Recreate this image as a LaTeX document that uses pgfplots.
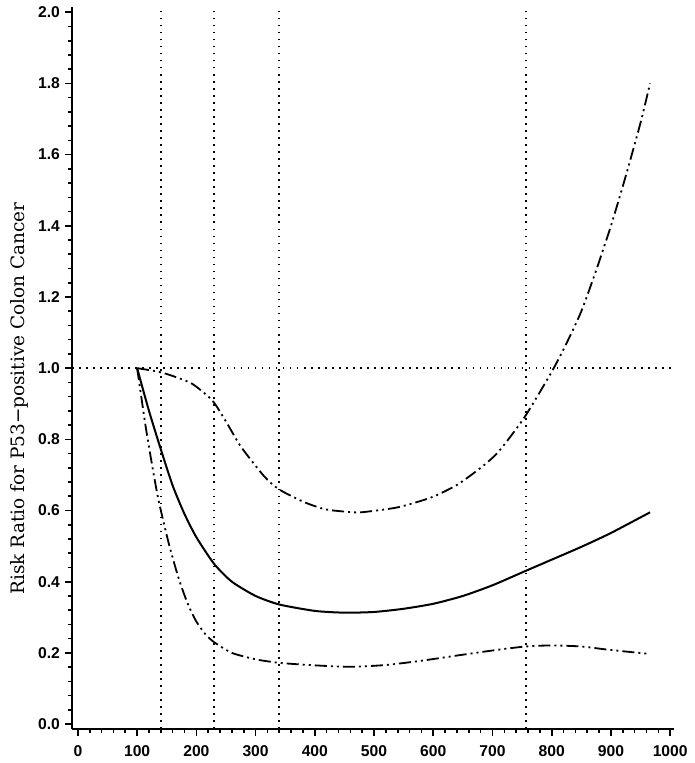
\documentclass[border=0pt]{standalone}
\usepackage{fontspec}
\usepackage{pgfplots}
\pgfplotsset{compat=1.18}
\newfontfamily\tickfont{Liberation Sans}
\newfontfamily\labelfont{DejaVu Serif}

\begin{document}
\begin{tikzpicture}
\begin{axis}[
  scale only axis,
  width=300pt, height=359.5pt,
  xmin=-10, xmax=1007, ymin=-0.014, ymax=2.014,
  axis lines*=left,
  axis line style={line width=1pt},
  xtick={0,100,200,300,400,500,600,700,800,900,1000},
  ytick={0,0.2,0.4,0.6,0.8,1.0,1.2,1.4,1.6,1.8,2.0},
  minor x tick num=4, minor y tick num=4,
  tick align=outside,
  major tick length=3.5pt, minor tick length=2pt,
  tick style={line width=0.8pt, black},
  scaled ticks=false,
  /pgf/number format/assume math mode=true,
  /pgf/number format/1000 sep={},
  ticklabel style={font=\tickfont\bfseries\fontsize{7.8}{9}\selectfont},
  y tick label style={/pgf/number format/.cd, fixed, fixed zerofill, precision=1,
                      /tikz/.cd, xshift=1pt},
  x tick label style={yshift=-1pt},
  ylabel={Risk Ratio for P53−positive Colon Cancer},
  ylabel style={font=\labelfont\fontsize{9.2}{11}\selectfont,
                inner xsep=0pt, inner ysep=5.3pt,
                at={(axis description cs:-0.087,0.458)}, anchor=center},
  clip=false,
]
  % reference lines
  \addplot[black, line width=0.8pt, dash pattern=on 0.8pt off 2.7pt]
    coordinates {(-10,1) (1007,1)};
  \addplot[black, line width=0.8pt, dash pattern=on 0.8pt off 2.7pt]
    coordinates {(140,-0.014) (140,2.014)};
  \addplot[black, line width=0.8pt, dash pattern=on 0.8pt off 2.7pt]
    coordinates {(230,-0.014) (230,2.014)};
  \addplot[black, line width=0.8pt, dash pattern=on 0.8pt off 2.7pt]
    coordinates {(340,-0.014) (340,2.014)};
  \addplot[black, line width=0.8pt, dash pattern=on 0.8pt off 2.7pt]
    coordinates {(757,-0.014) (757,2.014)};

  % estimate
  \addplot[black, line width=1pt, smooth, tension=0.4] coordinates {
    (100,1.0) (120,0.88) (140,0.772) (160,0.67) (180,0.59) (200,0.525)
    (230,0.45) (260,0.40) (300,0.36) (340,0.336) (400,0.318) (450,0.313)
    (500,0.315) (550,0.324) (600,0.338) (650,0.36) (700,0.39) (754,0.429)
    (800,0.462) (850,0.498) (900,0.537) (966,0.595)};

  % upper limit
  \addplot[black, line width=0.9pt, smooth, tension=0.4,
    dash pattern=on 6pt off 2pt on 1pt off 2pt on 1pt off 2pt] coordinates {
    (100,1.0) (136,0.99) (160,0.978) (193,0.956) (227,0.909) (250,0.85)
    (275,0.78) (314,0.697) (339,0.66) (380,0.625) (416,0.604) (450,0.597)
    (478,0.595) (540,0.609) (597,0.637) (640,0.672) (680,0.72) (710,0.765)
    (754,0.862) (800,0.99) (825,1.07) (850,1.16) (875,1.275) (900,1.40)
    (925,1.54) (950,1.69) (966,1.80)};

  % lower limit
  \addplot[black, line width=0.9pt, smooth, tension=0.4,
    dash pattern=on 6pt off 2pt on 1pt off 2pt on 1pt off 2pt] coordinates {
    (100,1.0) (114,0.84) (125,0.73) (136,0.63) (153,0.51) (170,0.41)
    (185,0.34) (200,0.288) (215,0.253) (230,0.23) (260,0.20) (300,0.182)
    (340,0.172) (400,0.165) (460,0.161) (520,0.166) (580,0.178) (650,0.195)
    (710,0.209) (756,0.218) (800,0.221) (850,0.218) (890,0.21) (930,0.203)
    (966,0.197)};
\end{axis}
\end{tikzpicture}
\end{document}
